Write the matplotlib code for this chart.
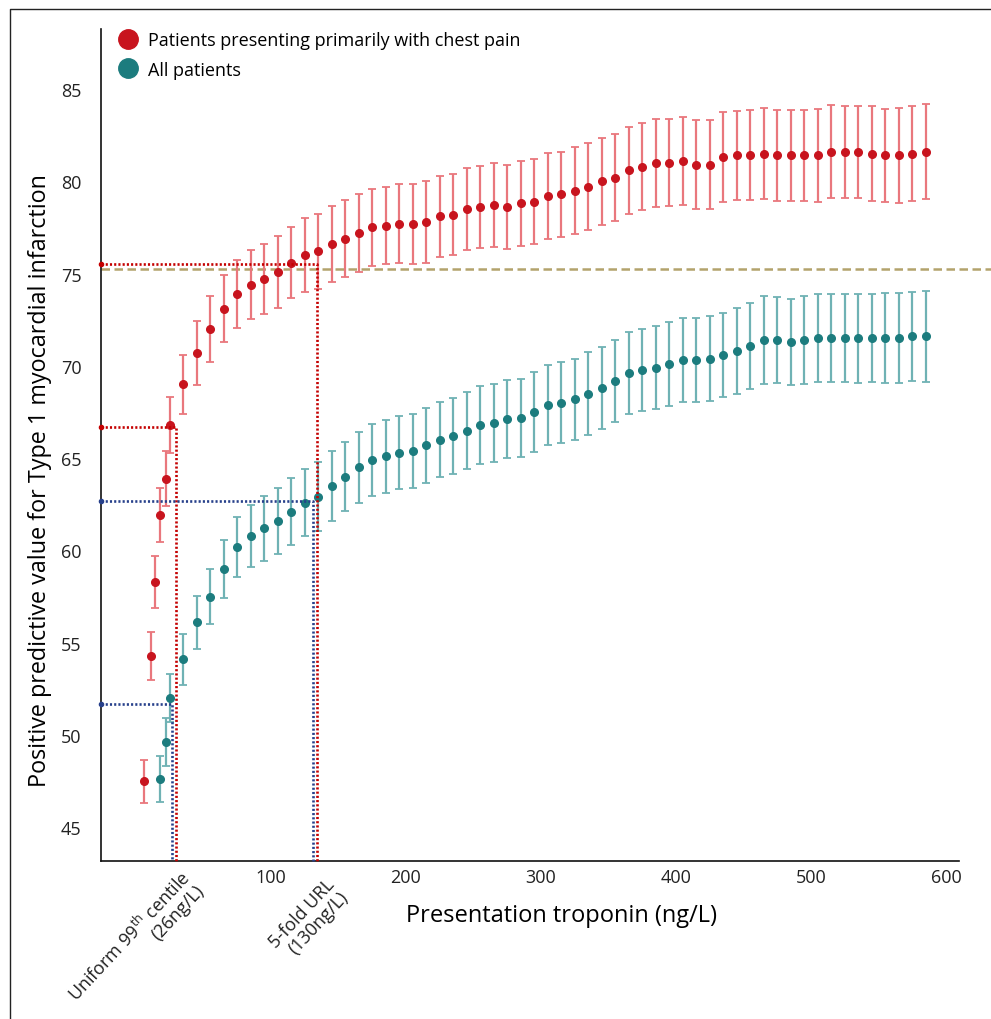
import matplotlib
matplotlib.use("Agg")
import matplotlib.pyplot as plt
from matplotlib.lines import Line2D

plt.rcParams['font.family'] = ['Open Sans', 'DejaVu Sans']
plt.rcParams['mathtext.fontset'] = 'custom'
plt.rcParams['mathtext.rm'] = 'Open Sans'
plt.rcParams['mathtext.it'] = 'Open Sans'

# troponin thresholds (ng/L) where the values were estimated
pain_x = [6, 11, 14, 18, 22, 25,
          35, 45, 55, 65, 75, 85, 95, 105, 115, 125, 135, 145, 155, 165,
          175, 185, 195, 205, 215, 225, 235, 245, 255, 265, 275, 285, 295,
          305, 315, 325, 335, 345, 355, 365, 375, 385, 395, 405, 415, 425,
          435, 445, 455, 465, 475, 485, 495, 505, 515, 525, 535, 545, 555,
          565, 575, 585]
pain_ppv = [47.5, 54.3, 58.3, 61.9, 63.9, 66.8,
            69.0, 70.7, 72.0, 73.1, 73.9, 74.4, 74.7, 75.1, 75.6, 76.0,
            76.2, 76.6, 76.9, 77.2, 77.5, 77.6, 77.7, 77.7, 77.8, 78.1,
            78.2, 78.5, 78.6, 78.7, 78.6, 78.8, 78.9, 79.2, 79.3, 79.5,
            79.7, 80.0, 80.2, 80.6, 80.8, 81.0, 81.0, 81.1, 80.9, 80.9,
            81.3, 81.4, 81.4, 81.5, 81.4, 81.4, 81.4, 81.4, 81.6, 81.6,
            81.6, 81.5, 81.4, 81.4, 81.5, 81.6]
pain_err = [1.17, 1.30, 1.40, 1.46, 1.49, 1.51,
            1.59, 1.73, 1.78, 1.81, 1.82, 1.87, 1.89, 1.94, 1.94, 1.99,
            2.02, 2.05, 2.07, 2.09, 2.09, 2.09, 2.13, 2.16, 2.20, 2.18,
            2.18, 2.21, 2.21, 2.27, 2.27, 2.29, 2.30, 2.32, 2.31, 2.34,
            2.36, 2.35, 2.35, 2.35, 2.37, 2.37, 2.36, 2.38, 2.40, 2.41,
            2.44, 2.43, 2.44, 2.46, 2.45, 2.46, 2.47, 2.51, 2.51, 2.48,
            2.49, 2.56, 2.54, 2.58, 2.59, 2.57]

all_x = [18, 22, 25,
         35, 45, 55, 65, 75, 85, 95, 105, 115, 125, 135, 145, 155, 165,
         175, 185, 195, 205, 215, 225, 235, 245, 255, 265, 275, 285, 295,
         305, 315, 325, 335, 345, 355, 365, 375, 385, 395, 405, 415, 425,
         435, 445, 455, 465, 475, 485, 495, 505, 515, 525, 535, 545, 555,
         565, 575, 585]
all_ppv = [47.6, 49.6, 52.0,
           54.1, 56.1, 57.5, 59.0, 60.2, 60.8, 61.2, 61.6, 62.1, 62.6,
           62.9, 63.5, 64.0, 64.5, 64.9, 65.1, 65.3, 65.4, 65.7, 66.0,
           66.2, 66.5, 66.8, 66.9, 67.1, 67.2, 67.5, 67.9, 68.0, 68.2,
           68.5, 68.8, 69.2, 69.6, 69.8, 69.9, 70.1, 70.3, 70.3, 70.4,
           70.6, 70.8, 71.1, 71.4, 71.4, 71.3, 71.4, 71.5, 71.5, 71.5,
           71.5, 71.5, 71.5, 71.5, 71.6, 71.6]
all_err = [1.25, 1.30, 1.31,
           1.38, 1.43, 1.50, 1.56, 1.64, 1.69, 1.76, 1.78, 1.82, 1.81,
           1.87, 1.90, 1.87, 1.91, 1.94, 1.96, 1.99, 1.99, 2.02, 2.02,
           2.07, 2.06, 2.09, 2.12, 2.11, 2.11, 2.18, 2.17, 2.20, 2.19,
           2.23, 2.21, 2.22, 2.22, 2.22, 2.24, 2.26, 2.28, 2.27, 2.30,
           2.29, 2.32, 2.33, 2.36, 2.34, 2.35, 2.36, 2.39, 2.39, 2.39,
           2.40, 2.39, 2.43, 2.43, 2.42, 2.45]

x_ticks = [100, 200, 300, 400, 500, 600]
y_ticks = [45, 50, 55, 60, 65, 70, 75, 80, 85]

# threshold guide lines: (troponin, ppv)
red_99th = (30, 66.7)
red_5fold = (134, 75.5)
blue_99th = (27, 51.7)
blue_5fold = (131, 62.7)
reference_ppv = 75.25

red_dot = '#c8141e'
red_bar = '#e9777d'
teal_dot = '#1c7c7e'
teal_bar = '#6fb2b4'
guide_red = '#c40000'
guide_blue = '#27408b'

fig = plt.figure(figsize=(9.91, 10.20), dpi=100)
ax = fig.add_axes([101/991, 1 - 862/1020, 858/991, 832/1020])

ax.errorbar(all_x, all_ppv, yerr=all_err, fmt='o', color=teal_dot,
            ecolor=teal_bar, elinewidth=1.6, capsize=3.2, capthick=1.3,
            markersize=5.5, zorder=3)
ax.errorbar(pain_x, pain_ppv, yerr=pain_err, fmt='o', color=red_dot,
            ecolor=red_bar, elinewidth=1.6, capsize=3.2, capthick=1.3,
            markersize=5.5, zorder=3)

ymin = 43.18
ax.axhline(reference_ppv, xmin=0, xmax=1.037, color='#b3a36c', lw=1.8,
           dashes=(3.4, 1.8), clip_on=False, zorder=2)

for (gx, gy), col in [(red_99th, guide_red), (red_5fold, guide_red),
                      (blue_99th, guide_blue), (blue_5fold, guide_blue)]:
    ax.plot([-25.9, gx, gx], [gy, gy, ymin], color=col, lw=1.9,
            ls=(0, (0.8, 0.8)), zorder=4, clip_on=False)
    ax.plot([-25.9], [gy], 'o', color=col, markersize=3, zorder=4,
            clip_on=False)

ax.set_xlim(-25.9, 609.6)
ax.set_ylim(ymin, 88.25)
ax.set_xticks(x_ticks)
ax.set_yticks(y_ticks)
ax.tick_params(length=0, labelsize=13, colors='#222222')
ax.tick_params(axis='y', pad=14)
ax.tick_params(axis='x', pad=5)
for s in ['top', 'right']:
    ax.spines[s].set_visible(False)
for s in ['left', 'bottom']:
    ax.spines[s].set_linewidth(1.2)
    ax.spines[s].set_color('#111111')

ax.set_ylabel('Positive predictive value for Type 1 myocardial infarction',
              fontsize=16.8)
ax.yaxis.set_label_coords(-0.071, 0.459)
ax.yaxis.label.set_va('center')
ax.set_xlabel('Presentation troponin (ng/L)', fontsize=17)
ax.xaxis.set_label_coords(0.537, -0.05)

ax.annotate('Uniform 99$^{\\mathrm{th}}$ centile\n(26ng/L)',
            xy=(red_99th[0], 0), xycoords=('data', 'axes fraction'),
            xytext=(2, -4), textcoords='offset points', rotation=47,
            rotation_mode='anchor', ha='right', va='top',
            multialignment='right', fontsize=13, color='#222222',
            linespacing=1.0)
ax.annotate('5-fold URL\n(130ng/L)',
            xy=(red_5fold[0], 0), xycoords=('data', 'axes fraction'),
            xytext=(6, -10), textcoords='offset points', rotation=47,
            rotation_mode='anchor', ha='right', va='top',
            multialignment='right', fontsize=13, color='#222222',
            linespacing=1.0)

handles = [Line2D([], [], marker='o', ls='', color=red_dot, markersize=14),
           Line2D([], [], marker='o', ls='', color=teal_dot, markersize=14)]
ax.legend(handles, ['Patients presenting primarily with chest pain', 'All patients'],
          loc='upper left', bbox_to_anchor=(117/991, 1 - 32/1020),
          bbox_transform=fig.transFigure, frameon=False, fontsize=13,
          handletextpad=0.5, labelspacing=0.65, borderpad=0, borderaxespad=0,
          handlelength=1.2)

# thin frame round the figure (left and top edges)
fig.add_artist(Line2D([10/991, 10/991, 1], [0, 1 - 10/1020, 1 - 10/1020],
                      transform=fig.transFigure, color='#222222', lw=1))

fig.set_facecolor('white')
fig.savefig('out.png', dpi=100)
